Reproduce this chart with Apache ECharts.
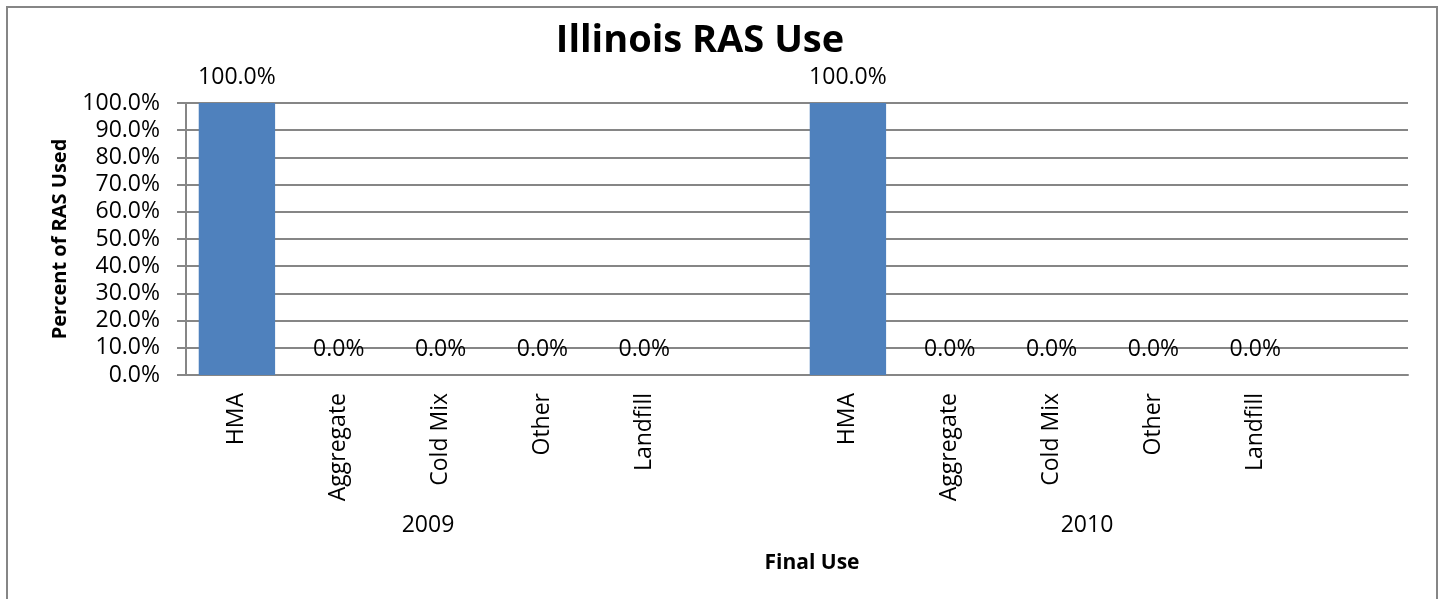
<!DOCTYPE html>
<html>
<head>
<meta charset="utf-8">
<script src="https://cdn.jsdelivr.net/npm/echarts@6/dist/echarts.min.js"></script>
<style>
html,body{margin:0;padding:0;background:#fff;}
#chart{width:1443px;height:599px;}
</style>
</head>
<body>
<div id="chart"></div>
<script>
const titleText = 'Illinois RAS Use';
const yAxisTitle = 'Percent of RAS Used';
const xAxisTitle = 'Final Use';
const uses = ['HMA', 'Aggregate', 'Cold Mix', 'Other', 'Landfill'];
const years = ['2009', '2010'];
const values2009 = [100, 0, 0, 0, 0];
const values2010 = [100, 0, 0, 0, 0];
const yTicks = [0, 10, 20, 30, 40, 50, 60, 70, 80, 90, 100];

// Build category slots: each year group followed by an empty slot
const cats = [];
const vals = [];
[values2009, values2010].forEach(function (arr) {
  uses.forEach(function (u, i) { cats.push(u); vals.push(arr[i]); });
  cats.push(''); vals.push(null);
});

const FONT = 'Open Sans';
const GRAY = '#868686';
const chart = echarts.init(document.getElementById('chart'));
const gridLeft = 186, gridRight = 35, gridTop = 103, gridBottom = 224;

const option = {
  animation: false,
  backgroundColor: '#fff',
  title: {
    text: titleText,
    left: 695, top: 17, textAlign: 'center',
    textStyle: { fontFamily: FONT, fontWeight: 'bold', fontSize: 38, color: '#000' }
  },
  grid: { left: gridLeft, right: gridRight, top: gridTop, bottom: gridBottom, containLabel: false },
  xAxis: {
    type: 'category',
    data: cats,
    axisLine: { lineStyle: { color: GRAY, width: 2 } },
    axisTick: { show: false },
    axisLabel: {
      rotate: 90, interval: 0, margin: 18,
      fontFamily: FONT, fontSize: 23, color: '#000'
    }
  },
  yAxis: {
    type: 'value',
    min: yTicks[0], max: yTicks[yTicks.length - 1], interval: 10,
    name: yAxisTitle,
    nameLocation: 'middle',
    nameRotate: 90,
    nameGap: 116,
    nameTextStyle: { fontFamily: FONT, fontWeight: 'bold', fontSize: 20, color: '#000' },
    axisLine: { show: true, lineStyle: { color: GRAY, width: 2 } },
    axisTick: { show: true, length: 9, lineStyle: { color: GRAY, width: 2 } },
    splitLine: { lineStyle: { color: GRAY, width: 2 } },
    axisLabel: {
      margin: 26, fontFamily: FONT, fontSize: 23, color: '#000',
      formatter: function (v) { return v.toFixed(1) + '%'; }
    }
  },
  series: [{
    type: 'bar',
    data: vals,
    barCategoryGap: '25%',
    itemStyle: { color: '#4F81BD' },
    label: {
      show: true, position: 'top', distance: 12,
      fontFamily: FONT, fontSize: 23, color: '#000', lineHeight: 28,
      formatter: function (p) { return p.value == null ? '' : p.value.toFixed(1) + '%'; }
    }
  }],
  graphic: [
    { type: 'rect', shape: { x: 7, y: 7, width: 1430, height: 620 }, style: { fill: 'none', stroke: GRAY, lineWidth: 2 }, silent: true },
    { type: 'text', x: 428, y: 525, style: { text: years[0], font: '23px "Open Sans"', fill: '#000', textAlign: 'center', textVerticalAlign: 'middle' } },
    { type: 'text', x: 1087, y: 525, style: { text: years[1], font: '23px "Open Sans"', fill: '#000', textAlign: 'center', textVerticalAlign: 'middle' } },
    { type: 'text', x: 812, y: 563, style: { text: xAxisTitle, font: 'bold 21px "Open Sans"', fill: '#000', textAlign: 'center', textVerticalAlign: 'middle' } }
  ]
};
chart.setOption(option);
</script>
</body>
</html>
